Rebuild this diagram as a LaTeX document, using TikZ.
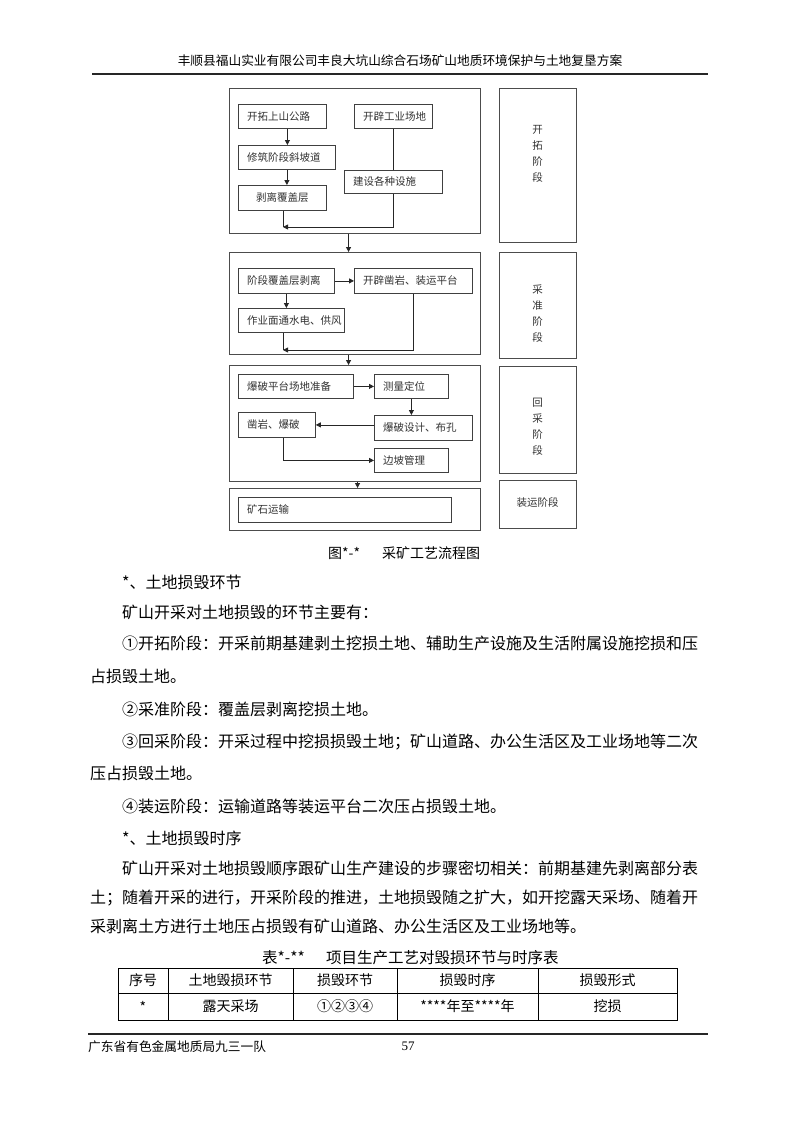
\documentclass[tikz,border=0pt]{standalone}
\usepackage{fontspec}
\newfontfamily\cjk{Noto Sans CJK SC}
\newfontfamily\serifd{Liberation Serif}
\usetikzlibrary{arrows.meta}
\begin{document}
\begin{tikzpicture}[x=1pt,y=-1pt,
  outer/.style={draw=black!70, line width=1.1pt, anchor=north west, inner sep=0},
  ibox/.style={draw=black!75, line width=0.8pt, anchor=north west, inner sep=0, minimum height=24,
     font=\cjk\fontsize{10.5}{12}\selectfont, text=black!80},
  lbl/.style={anchor=west, xshift=9pt, inner sep=0, font=\cjk\fontsize{10.5}{12}\selectfont, text=black!80},
  lt/.style={label={[lbl]west:#1}},
  arr/.style={-{Triangle[length=5pt,width=5pt]}, line width=0.8pt, draw=black!85},
  ln/.style={line width=0.8pt, draw=black!85},
  vtxt/.style={font=\cjk\fontsize{10.5}{16}\selectfont, align=center, inner sep=0, text=black!80},
  body/.style={anchor=west, inner sep=0, font=\cjk\fontsize{16}{18}\selectfont},
  small/.style={inner sep=0, font=\cjk\fontsize{12.7}{14}\selectfont},
  figcap/.style={anchor=west, inner sep=0, font=\cjk\fontsize{14}{16}\selectfont},
  tcap/.style={anchor=west, inner sep=0, font=\cjk\fontsize{15.5}{17}\selectfont},
  cell/.style={inner sep=0, font=\cjk\fontsize{14}{16}\selectfont},
  rule/.style={line width=1.6pt, draw=black!85},
  tline/.style={line width=1pt, draw=black}
]
\useasboundingbox[fill=white] (0,0) rectangle (793,1122);

% header
\node[small] (hdr) at (400,61) {丰顺县福山实业有限公司丰良大坑山综合石场矿山地质环境保护与土地复垦方案};
\coordinate (hl) at (92,74);
\coordinate (hr) at (708,74);
\draw[rule] (hl) -- (hr);

% outer stage boxes
\node[outer, minimum width=251, minimum height=145] (O1) at (229,88) {};
\node[outer, minimum width=251, minimum height=102] (O2) at (229,252) {};
\node[outer, minimum width=251, minimum height=116] (O3) at (229,365) {};
\node[outer, minimum width=251, minimum height=42] (O4) at (229,488) {};

% right column
\node[outer, minimum width=77, minimum height=154] (R1) at (499,88) {};
\node[outer, minimum width=77, minimum height=106] (R2) at (499,252) {};
\node[outer, minimum width=77, minimum height=107] (R3) at (499,366) {};
\node[outer, minimum width=77, minimum height=48] (R4) at (499,480) {};
\node[vtxt] (R1t) at (537.5,154) {开\\拓\\阶\\段};
\node[vtxt] (R2t) at (537.5,314) {采\\准\\阶\\段};
\node[vtxt] (R3t) at (537.5,427) {回\\采\\阶\\段};
\node[vtxt] (R4t) at (537.5,502) {装运阶段};

% stage 1
\node[ibox, minimum width=88, lt=开拓上山公路] (a1) at (238,104) {};
\node[ibox, minimum width=78, lt=开辟工业场地] (a2) at (354,104) {};
\node[ibox, minimum width=97, lt=修筑阶段斜坡道] (a3) at (238,145) {};
\node[ibox, minimum width=88, minimum height=25] (a4) at (238,185) {剥离覆盖层};
\node[ibox, minimum width=98, minimum height=23, lt=建设各种设施] (a5) at (344,170) {};
\draw[arr] ([xshift=5pt]a1.south) -- ([xshift=5pt]a1.south |- a3.north);
\draw[arr] (a3.south) -- (a3.south |- a4.north);
\draw[ln] (a2.south) -- (a5.north);
\coordinate (m1) at (283,227);
\draw[ln] (a4.south -| m1) -- (m1);
\draw[arr] (a5.south) |- (m1);
\draw[arr] ([xshift=-6.5pt]O1.south) -- ([xshift=-6.5pt]O1.south |- O2.north);

% stage 2
\node[ibox, minimum width=96, minimum height=25, lt=阶段覆盖层剥离] (b1) at (238,268) {};
\node[ibox, minimum width=118, minimum height=25, lt=开辟凿岩、装运平台] (b2) at (354,268) {};
\node[ibox, minimum width=106, lt=作业面通水电、供风] (b3) at (238,308) {};
\draw[arr] (b1.east) -- (b2.west);
\draw[arr] (b1.south) -- (b1.south |- b3.north);
\coordinate (m2) at (283,350);
\draw[ln] (b3.south -| m2) -- (m2);
\draw[arr] (b2.south) |- (m2);
\draw[arr] ([xshift=-6.5pt]O2.south) -- ([xshift=-6.5pt]O2.south |- O3.north);

% stage 3
\node[ibox, minimum width=115, lt=爆破平台场地准备] (c1) at (238,374) {};
\node[ibox, minimum width=74, lt=测量定位] (c2) at (374,374) {};
\node[ibox, minimum width=98, minimum height=25, lt=爆破设计、布孔] (c3) at (374,415) {};
\node[ibox, minimum width=77, minimum height=25, lt=凿岩、爆破] (c4) at (238,412) {};
\node[ibox, minimum width=74, lt=边坡管理] (c5) at (374,448) {};
\draw[arr] (c1.east) -- (c2.west);
\draw[arr] (c2.south) -- (c2.south |- c3.north);
\draw[arr] (c3.west |- c4.east) -- (c4.east);
\draw[arr] ([xshift=6pt]c4.south) |- (c5.west);
\draw[arr] ([xshift=2.5pt]O3.south) -- ([xshift=2.5pt]O3.south |- O4.north);

% stage 4
\node[ibox, minimum width=213, minimum height=25, lt=矿石运输] (d1) at (238,497) {};

% figure caption
\node[figcap] (fc1) at (328,553) {图*-*};
\node[figcap] (fc2) at (382,553) {采矿工艺流程图};

% body text
\node[body] (l1) at (122,582) {*、土地损毁环节};
\node[body] (l2) at (122,612) {矿山开采对土地损毁的环节主要有：};
\node[body] (l3) at (122,643) {①开拓阶段：开采前期基建剥土挖损土地、辅助生产设施及生活附属设施挖损和压};
\node[body] (l4) at (90,676) {占损毁土地。};
\node[body] (l5) at (122,709) {②采准阶段：覆盖层剥离挖损土地。};
\node[body] (l6) at (122,742) {③回采阶段：开采过程中挖损损毁土地；矿山道路、办公生活区及工业场地等二次};
\node[body] (l7) at (90,773) {压占损毁土地。};
\node[body] (l8) at (122,806) {④装运阶段：运输道路等装运平台二次压占损毁土地。};
\node[body] (l9) at (122,838) {*、土地损毁时序};
\node[body] (l10) at (122,868) {矿山开采对土地损毁顺序跟矿山生产建设的步骤密切相关：前期基建先剥离部分表};
\node[body] (l11) at (90,898) {土；随着开采的进行，开采阶段的推进，土地损毁随之扩大，如开挖露天采场、随着开};
\node[body] (l12) at (90,926) {采剥离土方进行土地压占损毁有矿山道路、办公生活区及工业场地等。};

% table caption
\node[tcap] (tc1) at (262,958) {表*-**};
\node[tcap] (tc2) at (326,958) {项目生产工艺对毁损环节与时序表};

% table
\draw[tline] (118,968) rectangle (677,1020);
\draw[tline] (118,993) -- (677,993);
\foreach \cx in {168,293,397,538} { \draw[tline] (\cx,968) -- (\cx,1020); }
\node[cell] (h1) at (143,980.5) {序号};
\node[cell] (h2) at (230.5,980.5) {土地毁损环节};
\node[cell] (h3) at (345,980.5) {损毁环节};
\node[cell] (h4) at (467.5,980.5) {损毁时序};
\node[cell] (h5) at (607.5,980.5) {损毁形式};
\node[cell] (v1) at (143,1006.5) {*};
\node[cell] (v2) at (230.5,1006.5) {露天采场};
\node[cell] (v3) at (345,1006.5) {①②③④};
\node[cell] (v4) at (467.5,1006.5) {****年至****年};
\node[cell] (v5) at (607.5,1006.5) {挖损};

% footer
\coordinate (fl) at (88,1034);
\coordinate (fr) at (708,1034);
\draw[rule] (fl) -- (fr);
\node[small, anchor=west] (ftxt) at (88,1047) {广东省有色金属地质局九三一队};
\node[inner sep=0, font=\serifd\fontsize{13}{15}\selectfont] (pg) at (408,1046) {57};
\end{tikzpicture}
\end{document}
